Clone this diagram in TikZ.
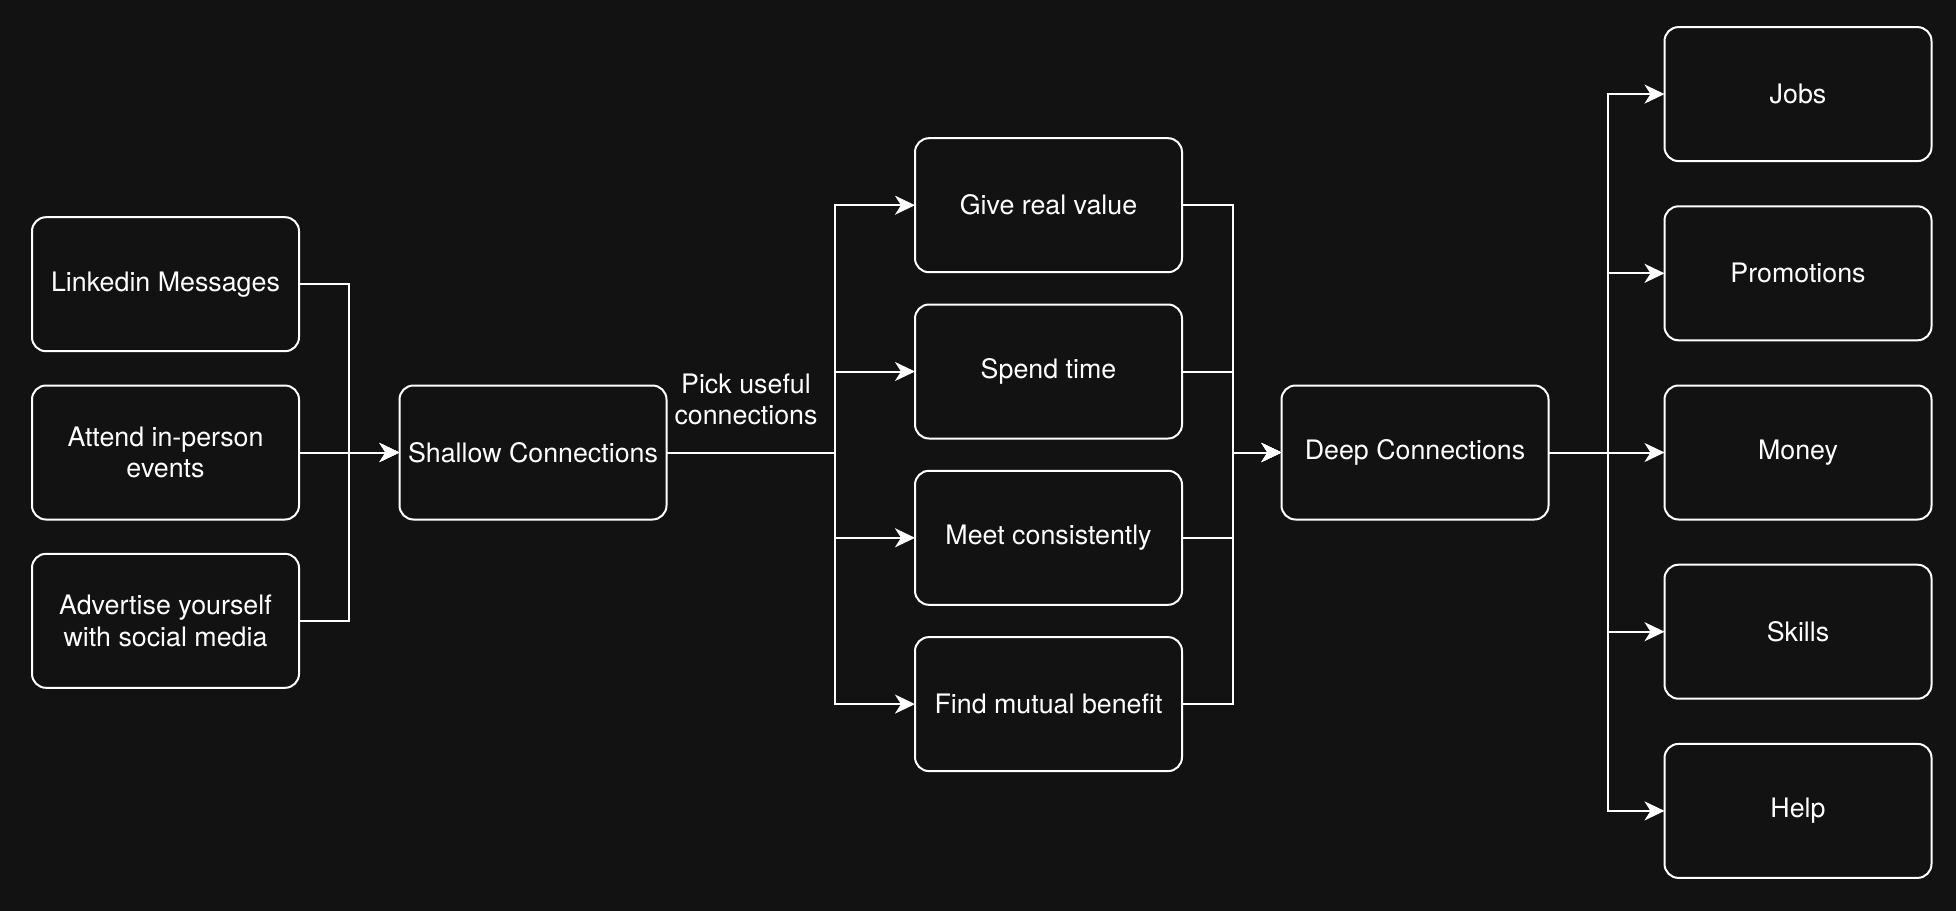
\documentclass[tikz,border=0pt]{standalone}
\usepackage{fontspec}
\setmainfont{TeX Gyre Heros}
\usetikzlibrary{positioning, arrows.meta}
\definecolor{bgdark}{HTML}{121212}

\begin{document}
\begin{tikzpicture}[x=1pt, y=1pt, color=white, line width=2pt,
        block/.style={draw, rounded corners=14pt, fill=bgdark, minimum width=267pt, minimum height=134pt, inner sep=0pt, outer sep=0pt, align=center, font=\fontsize{26.8}{31.3}\selectfont},
        link/.style={-{Stealth[length=20pt, width=19pt, inset=6pt]}}]
        \useasboundingbox (0,0) rectangle (1956,-910);
        \fill[bgdark] (-10,10) rectangle (1966,-920);
        \node[block] (sc) at (533,-452.5) {Shallow Connections};
        \node[block, left=100.5pt of sc] (ae) {Attend in-person\\events};
        \node[block, above=34.3pt of ae] (lm) {Linkedin Messages};
        \node[block, below=34.3pt of ae] (ad) {Advertise yourself\\with social media};
        \node[block, right=248.5pt of sc, yshift=81pt] (st) {Spend time};
        \node[block, above=32.3pt of st] (gv) {Give real value};
        \node[block, below=32.3pt of st] (mc) {Meet consistently};
        \node[block, below=32.3pt of mc] (fm) {Find mutual benefit};
        \node[block, right=615pt of sc] (dc) {Deep Connections};
        \node[block, right=116pt of dc] (mo) {Money};
        \node[block, above=45.2pt of mo] (pr) {Promotions};
        \node[block, above=45.2pt of pr] (jb) {Jobs};
        \node[block, below=45.2pt of mo] (sk) {Skills};
        \node[block, below=45.2pt of sk] (hp) {Help};
        \coordinate[right=50pt of ae] (j1);
        \coordinate[right=168pt of sc] (j2);
        \coordinate[left=49pt of dc] (j3);
        \coordinate[right=59.5pt of dc] (j4);
        \draw[link] (lm.east) -| (j1) -- (sc.west);
        \draw[link] (ae.east) -- (sc.west);
        \draw[link] (ad.east) -| (j1) -- (sc.west);
        \draw (sc.east) -- node[above=26.5pt, xshift=-4.5pt, inner sep=0pt, align=center, font=\fontsize{26.8}{31.3}\selectfont] {Pick useful\\connections} (j2);
        \draw[link] (j2) |- (gv.west);
        \draw[link] (j2) |- (st.west);
        \draw[link] (j2) |- (mc.west);
        \draw[link] (j2) |- (fm.west);
        \draw[link] (gv.east) -| (j3) -- (dc.west);
        \draw[link] (st.east) -| (j3) -- (dc.west);
        \draw[link] (mc.east) -| (j3) -- (dc.west);
        \draw[link] (fm.east) -| (j3) -- (dc.west);
        \draw[link] (dc.east) -- (j4) |- (jb.west);
        \draw[link] (dc.east) -- (j4) |- (pr.west);
        \draw[link] (dc.east) -- (mo.west);
        \draw[link] (dc.east) -- (j4) |- (sk.west);
        \draw[link] (dc.east) -- (j4) |- (hp.west);
\end{tikzpicture}
\end{document}
